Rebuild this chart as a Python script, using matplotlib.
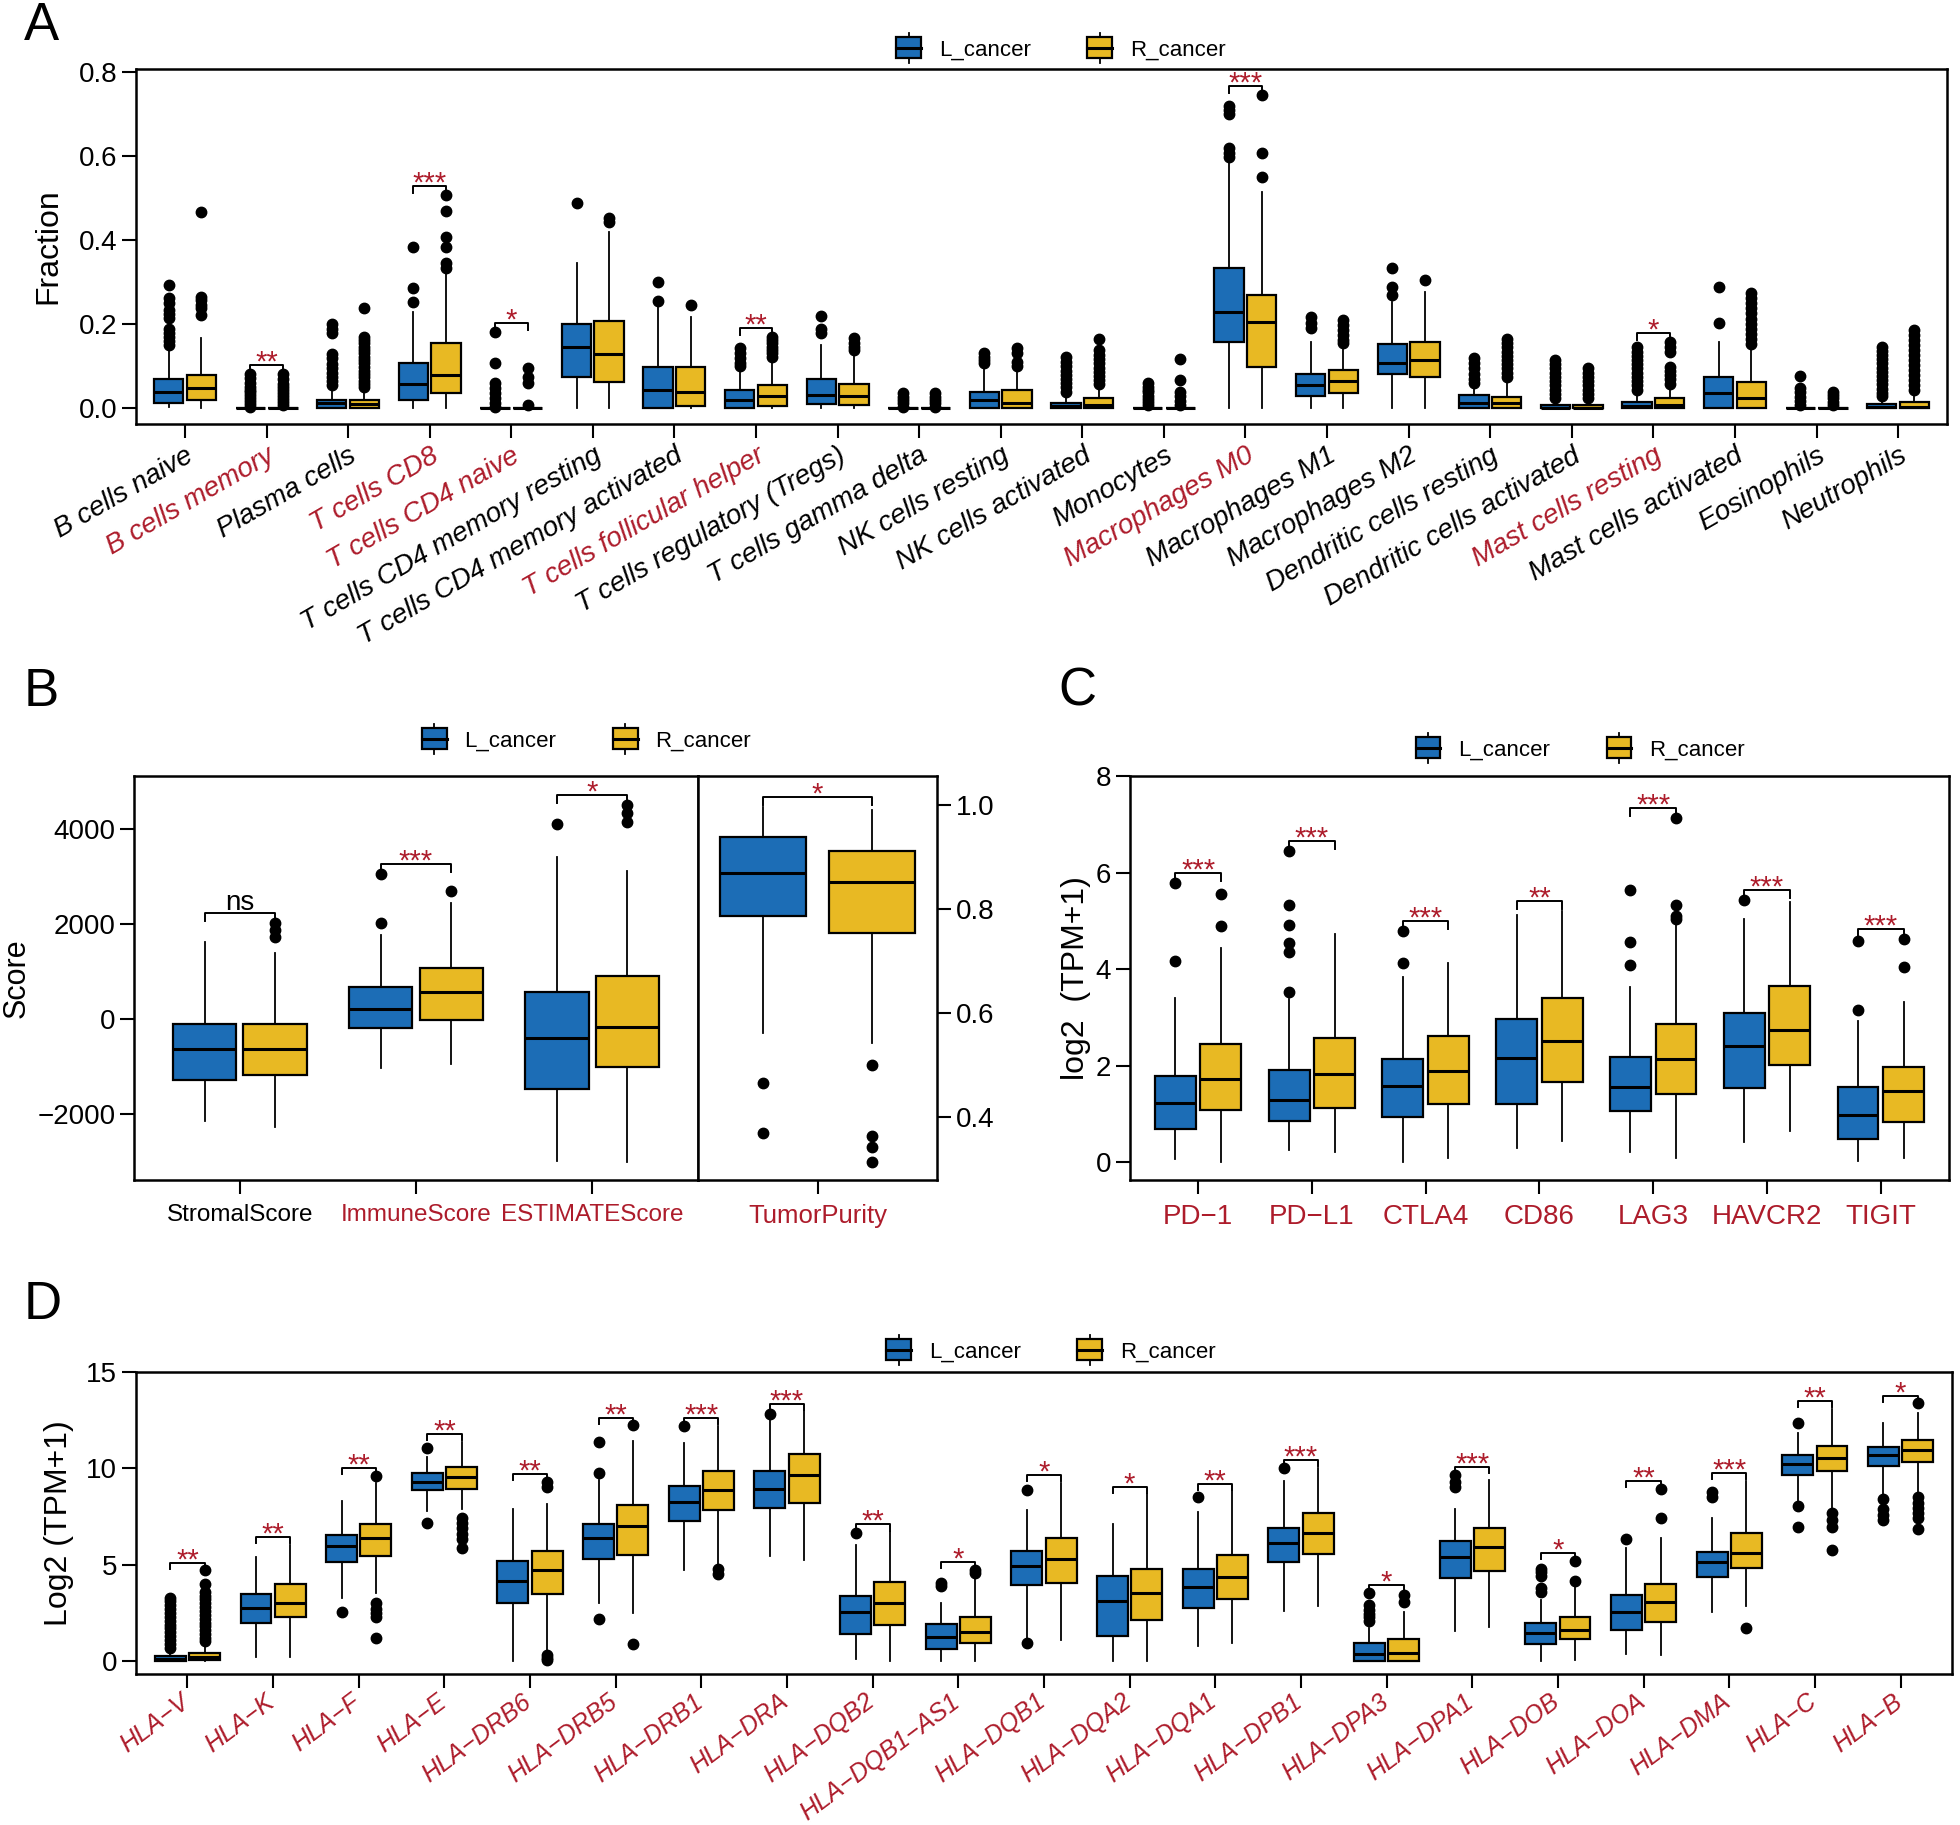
import matplotlib
matplotlib.use('Agg')
import matplotlib.pyplot as plt
from matplotlib.legend_handler import HandlerBase
from matplotlib.patches import Rectangle, Patch
from matplotlib.lines import Line2D
from matplotlib.transforms import ScaledTranslation

plt.rcParams['font.family'] = ['Liberation Sans', 'DejaVu Sans']

BLUE = '#1c6db6'
GOLD = '#e8b923'
RED = '#ad1c2b'

# ---------------- panel A: immune cell fractions ----------------
A_cells = ['B cells naive', 'B cells memory', 'Plasma cells', 'T cells CD8', 'T cells CD4 naive',
           'T cells CD4 memory resting', 'T cells CD4 memory activated', 'T cells follicular helper',
           'T cells regulatory (Tregs)', 'T cells gamma delta', 'NK cells resting', 'NK cells activated',
           'Monocytes', 'Macrophages M0', 'Macrophages M1', 'Macrophages M2', 'Dendritic cells resting',
           'Dendritic cells activated', 'Mast cells resting', 'Mast cells activated', 'Eosinophils',
           'Neutrophils']
A_sig = ['', '**', '', '***', '*', '', '', '**', '', '', '', '', '', '***', '', '', '', '', '*', '', '', '']
# (whislo, q1, median, q3, whishi)
A_L = [(0.004, 0.0135, 0.039, 0.069, 0.145), (0, 0, 0, 0, 0), (0, 0, 0.012, 0.021, 0.045),
       (0.002, 0.021, 0.057, 0.107, 0.23), (0, 0, 0, 0, 0), (0, 0.075, 0.147, 0.200, 0.347),
       (0, 0, 0.045, 0.099, 0.245), (0, 0.002, 0.02, 0.044, 0.095), (0, 0.01, 0.033, 0.069, 0.151),
       (0, 0, 0, 0, 0), (0, 0, 0.02, 0.04, 0.095), (0, 0, 0.006, 0.0135, 0.033), (0, 0, 0, 0, 0),
       (0, 0.157, 0.23, 0.334, 0.592), (0.002, 0.029, 0.056, 0.083, 0.159), (0, 0.081, 0.109, 0.153, 0.254),
       (0, 0, 0.012, 0.033, 0.05), (0, 0, 0.002, 0.008, 0.02), (0, 0, 0.005, 0.016, 0.04),
       (0, 0, 0.037, 0.074, 0.159), (0, 0, 0, 0, 0), (0, 0, 0.003, 0.01, 0.025)]
A_R = [(0.002, 0.021, 0.049, 0.079, 0.167), (0, 0, 0, 0, 0), (0, 0, 0.01, 0.021, 0.045),
       (0.002, 0.037, 0.079, 0.156, 0.326), (0, 0, 0, 0, 0), (0, 0.062, 0.129, 0.207, 0.419),
       (0, 0.006, 0.04, 0.099, 0.217), (0, 0.006, 0.029, 0.056, 0.115), (0, 0.008, 0.029, 0.058, 0.127),
       (0, 0, 0, 0, 0), (0, 0, 0.014, 0.044, 0.091), (0, 0, 0.008, 0.024, 0.048), (0, 0, 0, 0, 0),
       (0, 0.099, 0.205, 0.27, 0.515), (0, 0.037, 0.066, 0.091, 0.147), (0, 0.075, 0.115, 0.159, 0.276),
       (0, 0, 0.012, 0.028, 0.065), (0, 0, 0.002, 0.008, 0.02), (0, 0, 0.008, 0.025, 0.048),
       (0, 0, 0.024, 0.064, 0.147), (0, 0, 0, 0, 0), (0, 0, 0.004, 0.016, 0.035)]
A_L_out = [[0.294, 0.262, 0.25, 0.235, 0.225, 0.215, 0.19, 0.18, 0.17, 0.16, 0.15],
           [0.083, 0.072, 0.06, 0.052, 0.045, 0.038, 0.031, 0.024, 0.017, 0.01, 0.004],
           [0.2, 0.19, 0.18, 0.13, 0.12, 0.105, 0.095, 0.085, 0.075, 0.065, 0.055],
           [0.385, 0.286, 0.253],
           [0.183, 0.107, 0.06, 0.048, 0.036, 0.024, 0.012, 0.004],
           [0.49],
           [0.302, 0.256],
           [0.143, 0.131, 0.119, 0.107, 0.1],
           [0.22, 0.19, 0.18],
           [0.036, 0.028, 0.02, 0.012, 0.004],
           [0.133, 0.123, 0.115, 0.107],
           [0.123, 0.11, 0.1, 0.09, 0.08, 0.07, 0.06, 0.05, 0.04],
           [0.06, 0.052, 0.045, 0.038, 0.03, 0.022, 0.015, 0.008],
           [0.72, 0.71, 0.70, 0.62, 0.608, 0.598],
           [0.218, 0.203, 0.191],
           [0.334, 0.29, 0.27],
           [0.119, 0.107, 0.095, 0.083, 0.071, 0.06],
           [0.115, 0.105, 0.095, 0.085, 0.075, 0.065, 0.055, 0.045, 0.035, 0.025],
           [0.147, 0.135, 0.125, 0.115, 0.105, 0.095, 0.085, 0.075, 0.065, 0.055, 0.045],
           [0.29, 0.203],
           [0.078, 0.048, 0.038, 0.028, 0.018, 0.008],
           [0.147, 0.137, 0.127, 0.117, 0.107, 0.097, 0.087, 0.077, 0.067, 0.057, 0.047, 0.037, 0.03]]
A_R_out = [[0.467, 0.266, 0.258, 0.246, 0.238, 0.222],
           [0.082, 0.07, 0.058, 0.05, 0.043, 0.036, 0.029, 0.022, 0.015, 0.008],
           [0.238, 0.171, 0.163, 0.155, 0.147, 0.139, 0.131, 0.123, 0.115, 0.107, 0.099, 0.09,
            0.082, 0.074, 0.066, 0.058, 0.05],
           [0.508, 0.469, 0.407, 0.385, 0.345, 0.335],
           [0.095, 0.075, 0.06, 0.008],
           [0.453, 0.443],
           [0.246],
           [0.171, 0.163, 0.155, 0.147, 0.139, 0.131, 0.123],
           [0.167, 0.155, 0.145, 0.139],
           [0.036, 0.028, 0.02, 0.012, 0.004],
           [0.143, 0.131, 0.111, 0.1],
           [0.165, 0.139, 0.127, 0.117, 0.107, 0.097, 0.087, 0.077, 0.068, 0.058],
           [0.118, 0.068, 0.04, 0.03, 0.018, 0.008],
           [0.747, 0.608, 0.551],
           [0.21, 0.199, 0.187, 0.175, 0.163, 0.155],
           [0.306],
           [0.165, 0.155, 0.145, 0.135, 0.125, 0.115, 0.105, 0.095, 0.085, 0.075],
           [0.095, 0.085, 0.075, 0.065, 0.055, 0.045, 0.035, 0.025],
           [0.159, 0.147, 0.135, 0.099, 0.089, 0.079, 0.069, 0.059],
           [0.274, 0.262, 0.25, 0.238, 0.226, 0.214, 0.202, 0.19, 0.178, 0.166, 0.154],
           [0.04, 0.032, 0.024, 0.016, 0.008],
           [0.187, 0.175, 0.163, 0.151, 0.139, 0.127, 0.115, 0.103, 0.091, 0.079, 0.067, 0.055, 0.045]]

# ---------------- panel B: ESTIMATE scores ----------------
B_scores = ['StromalScore', 'ImmuneScore', 'ESTIMATEScore']
B_sig = ['ns', '***', '*']
B_L = [(-2156, -1300, -646, -109, 1619), (-1027, -187, 202, 677, 1774), (-2996, -1479, -405, 568, 3409)]
B_R = [(-2272, -1175, -638, -101, 1385), (-949, -16, 568, 1066, 2436), (-3012, -1012, -179, 903, 3121)]
B_L_out = [[], [3043, 2016], [4117]]
B_R_out = [[2020, 1870, 1720], [2693], [4514, 4342, 4148]]
P_name = ['TumorPurity']
P_sig = ['*']
P_L = [(0.561, 0.786, 0.868, 0.938, 0.995)]
P_R = [(0.541, 0.754, 0.851, 0.911, 0.99)]
P_L_out = [[0.464, 0.369]]
P_R_out = [[0.5, 0.363, 0.342, 0.313]]

# ---------------- panel C: checkpoint genes ----------------
C_genes = ['PD\u22121', 'PD\u2212L1', 'CTLA4', 'CD86', 'LAG3', 'HAVCR2', 'TIGIT']
C_sig = ['***', '***', '***', '**', '***', '***', '***']
C_L = [(0.06, 0.69, 1.23, 1.79, 3.41), (0.25, 0.86, 1.29, 1.90, 3.37), (0.0, 0.94, 1.58, 2.13, 3.83),
       (0.29, 1.20, 2.16, 2.96, 5.13), (0.21, 1.06, 1.55, 2.18, 3.62), (0.42, 1.53, 2.40, 3.08, 5.03),
       (0.02, 0.49, 0.97, 1.55, 2.92)]
C_R = [(0.0, 1.09, 1.72, 2.45, 4.44), (0.21, 1.13, 1.82, 2.57, 4.73), (0.09, 1.21, 1.88, 2.61, 4.12),
       (0.44, 1.67, 2.51, 3.40, 5.21), (0.08, 1.42, 2.14, 2.86, 4.92), (0.65, 2.02, 2.73, 3.64, 5.40),
       (0.08, 0.83, 1.48, 1.98, 3.31)]
C_L_out = [[5.78, 4.17], [6.45, 5.32, 4.92, 4.55, 4.36, 3.52], [4.79, 4.12], [], [5.64, 4.56, 4.09],
           [5.43], [4.58, 3.16]]
C_R_out = [[5.55, 4.89], [], [], [], [7.12, 5.33, 5.1, 5.03], [], [4.63, 4.04]]

# ---------------- panel D: HLA genes ----------------
D_genes = ['HLA\u2212V', 'HLA\u2212K', 'HLA\u2212F', 'HLA\u2212E', 'HLA\u2212DRB6', 'HLA\u2212DRB5',
           'HLA\u2212DRB1', 'HLA\u2212DRA', 'HLA\u2212DQB2', 'HLA\u2212DQB1\u2212AS1', 'HLA\u2212DQB1',
           'HLA\u2212DQA2', 'HLA\u2212DQA1', 'HLA\u2212DPB1', 'HLA\u2212DPA3', 'HLA\u2212DPA1',
           'HLA\u2212DOB', 'HLA\u2212DOA', 'HLA\u2212DMA', 'HLA\u2212C', 'HLA\u2212B']
D_sig = ['**', '**', '**', '**', '**', '**', '***', '***', '**', '*', '*', '*', '**', '***', '*',
         '***', '*', '**', '***', '**', '*']
D_L = [(0.0, 0.0, 0.1, 0.25, 0.6), (0.2, 1.99, 2.78, 3.48, 5.38), (3.27, 5.13, 5.96, 6.55, 8.32),
       (7.78, 8.88, 9.28, 9.77, 10.58), (0.0, 3.03, 4.17, 5.2, 7.87), (3.0, 5.31, 6.39, 7.09, 9.4),
       (4.71, 7.29, 8.27, 9.08, 11.34), (5.47, 7.96, 8.95, 9.89, 12.56), (0.11, 1.41, 2.55, 3.39, 6.03),
       (0.0, 0.61, 1.23, 1.95, 3.0), (1.19, 3.94, 4.93, 5.7, 7.83), (0.0, 1.32, 3.12, 4.44, 7.11),
       (0.78, 2.74, 3.84, 4.77, 7.73), (2.6, 5.16, 6.12, 6.91, 9.35), (0.0, 0.0, 0.38, 0.92, 1.73),
       (1.59, 4.31, 5.4, 6.21, 7.91), (0.0, 0.88, 1.44, 1.97, 3.18), (0.36, 1.64, 2.55, 3.45, 5.88),
       (2.55, 4.35, 5.13, 5.67, 7.45), (8.23, 9.68, 10.22, 10.72, 11.84), (8.5, 10.13, 10.67, 11.12, 12.35)]
D_R = [(0.0, 0.07, 0.23, 0.43, 0.92), (0.23, 2.31, 3.0, 3.99, 6.03), (3.54, 5.47, 6.37, 7.11, 9.22),
       (7.87, 8.95, 9.55, 10.09, 11.39), (0.38, 3.48, 4.75, 5.7, 8.14), (2.49, 5.52, 7.0, 8.09, 11.44),
       (4.89, 7.83, 8.86, 9.86, 12.2), (5.25, 8.23, 9.68, 10.76, 12.96), (0.0, 1.86, 3.0, 4.13, 6.7),
       (0.0, 0.92, 1.52, 2.31, 4.3), (1.1, 4.04, 5.31, 6.39, 9.26), (0.0, 2.15, 3.54, 4.77, 8.65),
       (0.96, 3.23, 4.35, 5.49, 8.81), (2.87, 5.58, 6.66, 7.69, 10.04), (0.0, 0.0, 0.43, 1.14, 2.55),
       (1.79, 4.66, 5.94, 6.93, 9.4), (0.05, 1.14, 1.61, 2.27, 3.9), (0.32, 2.04, 3.05, 3.99, 6.39),
       (2.87, 4.84, 5.61, 6.64, 9.35), (7.87, 9.86, 10.54, 11.16, 13.1), (8.6, 10.31, 10.94, 11.48, 12.9)]
D_L_out = [[3.3, 3.1, 2.9, 2.7, 2.5, 2.3, 2.1, 1.9, 1.7, 1.5, 1.3, 1.1, 0.9, 0.7], [], [2.55],
           [11.08, 7.15], [], [11.39, 9.77, 2.18], [12.2], [12.8], [6.66], [4.05, 3.9], [8.86, 0.92],
           [], [8.5], [10.04], [3.54, 2.91, 2.64, 2.45, 2.27, 2.1], [9.68, 9.3, 9.04],
           [4.8, 4.62, 4.44, 3.81, 3.6], [6.34], [8.77, 8.5], [12.33, 8.05, 6.97], [8.41, 7.87, 7.6, 7.33]]
D_R_out = [[4.71, 3.99, 3.6, 3.4, 3.2, 3.0, 2.8, 2.6, 2.4, 2.2, 2.0, 1.8, 1.6, 1.4, 1.2, 1.05], [],
           [9.62, 3.0, 2.73, 2.5, 2.27, 1.19], [7.42, 7.15, 6.9, 6.61, 6.34, 5.88],
           [9.31, 9.04, 0.3, 0.15, 0.05], [12.24, 0.87], [4.8, 4.53], [], [], [4.75, 4.55], [], [], [],
           [], [3.45, 3.09], [], [5.2, 4.17], [8.95, 7.45], [1.73], [7.69, 7.33, 6.97, 5.79],
           [13.38, 8.5, 8.23, 7.96, 7.69, 7.42, 6.88]]


class BoxGlyph(HandlerBase):
    """little box-and-whisker symbol for the legend"""
    def create_artists(self, legend, orig_handle, xdescent, ydescent, width, height, fontsize, trans):
        cx = width / 2 - xdescent
        bw, bh = height * 1.6, height * 1.35
        y0 = -ydescent + (height - bh) / 2
        stem = Line2D([cx, cx], [y0 - 0.3 * height, y0 + bh + 0.3 * height], color='black', lw=1.3,
                      transform=trans)
        box = Rectangle((cx - bw / 2, y0), bw, bh, facecolor=orig_handle.get_facecolor(),
                        edgecolor='black', lw=1.6, transform=trans)
        med = Line2D([cx - bw / 2, cx + bw / 2], [y0 + bh / 2] * 2, color='black', lw=2.2, transform=trans)
        return [stem, box, med]


def draw_pairs(ax, L, R, L_out, R_out, off=0.2, width=0.36):
    centers = list(range(1, len(L) + 1))
    for st, outs, sgn, col in ((L, L_out, -1, BLUE), (R, R_out, 1, GOLD)):
        stats = [dict(whislo=s[0], q1=s[1], med=s[2], q3=s[3], whishi=s[4], fliers=o)
                 for s, o in zip(st, outs)]
        ax.bxp(stats, positions=[c + sgn * off for c in centers], widths=width, patch_artist=True,
               showcaps=False, manage_ticks=False,
               boxprops=dict(facecolor=col, edgecolor='black', linewidth=1.6),
               medianprops=dict(color='black', linewidth=2.2),
               whiskerprops=dict(color='black', linewidth=1.3),
               flierprops=dict(marker='o', markerfacecolor='black', markeredgecolor='black',
                               markersize=7.5))
    return centers


def add_sig(ax, centers, L, R, L_out, R_out, sig, off=0.2, fs=21):
    lo, hi = ax.get_ylim()
    span = hi - lo
    for i, lab in enumerate(sig):
        if not lab:
            continue
        top = max([L[i][4], R[i][4]] + list(L_out[i]) + list(R_out[i]))
        y = top + 0.025 * span
        tip = 0.02 * span
        c = centers[i]
        ax.plot([c - off, c - off, c + off, c + off], [y - tip, y, y, y - tip], color='black', lw=1.4,
                clip_on=False)
        ax.annotate(lab, (c, y), xytext=(0, 2 if lab == 'ns' else -4), textcoords='offset points',
                    ha='center', va='baseline', fontsize=fs if lab != 'ns' else 20,
                    color='black' if lab == 'ns' else RED, annotation_clip=False)


def style(ax):
    for s in ax.spines.values():
        s.set_linewidth(1.8)
    ax.tick_params(direction='out', length=10, width=1.5)
    ax.tick_params(axis='y', labelsize=20)


def set_cats(ax, labels, sig, size, **kw):
    ax.set_xticks(range(1, len(labels) + 1))
    ax.set_xticklabels(labels, fontsize=size, **kw)
    for t, s in zip(ax.get_xticklabels(), sig):
        t.set_color(RED if s not in ('', 'ns') else 'black')


def add_legend(fig, x, y):
    fig.legend(handles=[Patch(facecolor=BLUE), Patch(facecolor=GOLD)], labels=['L_cancer', 'R_cancer'],
               handler_map={Patch: BoxGlyph()}, loc='center', bbox_to_anchor=(x, y), ncol=2,
               frameon=False, fontsize=16, handlelength=1.2, handletextpad=0.76, columnspacing=2.5,
               borderpad=0)


fig = plt.figure(figsize=(19.6, 18.25), dpi=100)

# ---- A ----
axA = fig.add_axes([0.0694, 0.7677, 0.924, 0.1945])
style(axA)
cA = draw_pairs(axA, A_L, A_R, A_L_out, A_R_out)
axA.set_xlim(0.4, len(A_cells) + 0.6)
axA.set_ylim(-0.037, 0.808)
axA.set_yticks([0, 0.2, 0.4, 0.6, 0.8])
axA.set_yticklabels(['0.0', '0.2', '0.4', '0.6', '0.8'])
set_cats(axA, A_cells, A_sig, 20, rotation=30, ha='right', va='top', rotation_mode='anchor',
         fontstyle='italic')
add_sig(axA, cA, A_L, A_R, A_L_out, A_R_out, A_sig)
axA.set_ylabel('Fraction', fontsize=23)
axA.yaxis.set_label_coords(-0.040, 0.5)

# ---- B ----
axB = fig.add_axes([0.0684, 0.3534, 0.2877, 0.2214])
style(axB)
cB = draw_pairs(axB, B_L, B_R, B_L_out, B_R_out)
axB.set_xlim(0.4, 3.6)
axB.set_ylim(-3400, 5120)
axB.set_yticks([-2000, 0, 2000, 4000])
set_cats(axB, B_scores, B_sig, 17.5)
axB.tick_params(axis='x', pad=7)
add_sig(axB, cB, B_L, B_R, B_L_out, B_R_out, B_sig)
axB.set_ylabel('Score', fontsize=22)
axB.yaxis.set_label_coords(-0.182, 0.5)

axP = fig.add_axes([0.3561, 0.3534, 0.1220, 0.2214])
style(axP)
cP = draw_pairs(axP, P_L, P_R, P_L_out, P_R_out, off=0.273, width=0.43)
axP.set_xlim(0.4, 1.6)
axP.set_ylim(0.278, 1.055)
axP.yaxis.tick_right()
axP.set_yticks([0.4, 0.6, 0.8, 1.0])
set_cats(axP, P_name, P_sig, 18.5)
axP.tick_params(axis='x', pad=7)
add_sig(axP, cP, P_L, P_R, P_L_out, P_R_out, P_sig, off=0.273)

# ---- C ----
axC = fig.add_axes([0.5765, 0.3534, 0.4179, 0.2214])
style(axC)
cC = draw_pairs(axC, C_L, C_R, C_L_out, C_R_out)
axC.set_xlim(0.4, len(C_genes) + 0.6)
axC.set_ylim(-0.37, 8.0)
axC.set_yticks([0, 2, 4, 6, 8])
set_cats(axC, C_genes, C_sig, 20)
axC.tick_params(axis='x', pad=7)
add_sig(axC, cC, C_L, C_R, C_L_out, C_R_out, C_sig)
axC.set_ylabel('log2  (TPM+1)', fontsize=23)
axC.yaxis.set_label_coords(-0.048, 0.5)

# ---- D ----
axD = fig.add_axes([0.0694, 0.0827, 0.9265, 0.1655])
style(axD)
cD = draw_pairs(axD, D_L, D_R, D_L_out, D_R_out)
axD.set_xlim(0.4, len(D_genes) + 0.6)
axD.set_ylim(-0.67, 15)
axD.set_yticks([0, 5, 10, 15])
set_cats(axD, D_genes, D_sig, 18, rotation=37, ha='right', va='top', rotation_mode='anchor',
         fontstyle='italic')
axD.tick_params(axis='x', pad=1)
shift = ScaledTranslation(-6 / 72, 0, fig.dpi_scale_trans)
for t in axD.get_xticklabels():
    t.set_transform(t.get_transform() + shift)
add_sig(axD, cD, D_L, D_R, D_L_out, D_R_out, D_sig)
axD.set_ylabel('Log2 (TPM+1)', fontsize=23)
axD.yaxis.set_label_coords(-0.034, 0.5)

# legends and panel letters
add_legend(fig, 0.541, 0.9726)
add_legend(fig, 0.299, 0.594)
add_legend(fig, 0.806, 0.589)
add_legend(fig, 0.536, 0.2592)

for lab, x, y in (('A', 24, 40), ('B', 24, 706), ('C', 1058, 706), ('D', 24, 1319)):
    fig.text(x / 1960, 1 - y / 1825, lab, fontsize=38, ha='left', va='baseline')

fig.savefig('out.png', dpi=100)
